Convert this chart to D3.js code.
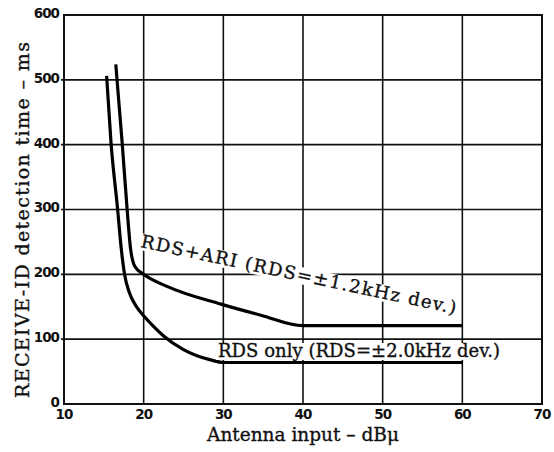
<!DOCTYPE html>
<meta charset="utf-8">
<style>
body { margin: 0; background: #fff; }
svg { display: block; background: #fff; }
.tick-label { font-family: "DejaVu Sans", sans-serif; font-weight: bold; font-size: 13.5px; letter-spacing: -1px; fill: #111; }
.title { font-family: "DejaVu Serif", serif; fill: #111; stroke: #111; stroke-width: 0.35px; }
.note { font-family: "DejaVu Serif", serif; font-size: 18px; fill: #111; stroke: #111; stroke-width: 0.35px; }
.grid { stroke: #111; stroke-width: 1.6px; }
.curve { fill: none; stroke: #000; stroke-width: 3.2px; stroke-linejoin: round; }
</style>
<body>
<div id="chart"></div>
<script src="https://d3js.org/d3.v7.min.js"></script>
<script>

// axis ticks
const xTicks = [10, 20, 30, 40, 50, 60, 70];
const yTicks = [0, 100, 200, 300, 400, 500, 600];

// RDS + ARI curve (dBu, ms)
const ariX = [16.5, 17.3, 17.9, 18.35, 18.9, 20, 23, 29.7, 34.7, 40, 60];
const ariY = [524, 403, 304, 240, 212, 200, 181, 154, 137, 121, 121];

// RDS only curve
const rdsX = [15.35, 15.9, 16.7, 17.2, 17.6, 18.2, 19.0, 20.0, 21.2, 22.5, 25, 28.4, 30, 60];
const rdsY = [506, 403, 304, 238, 200, 172, 152, 136, 120, 105, 84, 68, 64, 64];

const ariLabel = "RDS+ARI (RDS=\u00B11.2kHz dev.)";
const rdsLabel = "RDS only (RDS=\u00B12.0kHz dev.)";

const W = 554, H = 452;
const plot = {left: 64, right: 542, top: 15, bottom: 404};

const x = d3.scaleLinear().domain([10, 70]).range([plot.left, plot.right]);
const y = d3.scaleLinear().domain([0, 600]).range([plot.bottom, plot.top]);

const svg = d3.select("#chart").append("svg")
    .attr("width", W)
    .attr("height", H);

// grid lines
svg.append("g").selectAll("line")
  .data(xTicks.slice(1, -1))
  .enter().append("line")
    .attr("class", "grid")
    .attr("x1", d => x(d)).attr("x2", d => x(d))
    .attr("y1", plot.top).attr("y2", plot.bottom);

svg.append("g").selectAll("line")
  .data(yTicks.slice(1, -1))
  .enter().append("line")
    .attr("class", "grid")
    .attr("x1", plot.left - 3).attr("x2", plot.right)
    .attr("y1", d => y(d)).attr("y2", d => y(d));

// frame
svg.append("rect")
    .attr("x", plot.left).attr("y", plot.top)
    .attr("width", plot.right - plot.left).attr("height", plot.bottom - plot.top)
    .attr("fill", "none").attr("stroke", "#111").attr("stroke-width", 2);

// tick labels
svg.append("g").selectAll("text")
  .data(xTicks)
  .enter().append("text")
    .attr("class", "tick-label")
    .attr("x", d => x(d))
    .attr("y", plot.bottom + 15)
    .attr("text-anchor", "middle")
    .text(d => d);

svg.append("g").selectAll("text")
  .data(yTicks)
  .enter().append("text")
    .attr("class", "tick-label")
    .attr("x", plot.left - 5)
    .attr("y", d => y(d) - 2)
    .attr("dy", "0.36em")
    .attr("text-anchor", "end")
    .text(d => d);

// axis titles
svg.append("text")
    .attr("class", "title")
    .attr("transform", `translate(${(plot.left + plot.right) / 2}, 441)`)
    .attr("text-anchor", "middle")
    .attr("font-size", 18.5)
    .text("Antenna input \u2013 dB\u03BC");

svg.append("text")
    .attr("class", "title")
    .attr("transform", "translate(29, 220) rotate(-90)")
    .attr("text-anchor", "middle")
    .attr("textLength", 356)
    .attr("font-size", 19)
    .text("RECEIVE-ID detection time \u2013 ms");

// labels on white boxes
function addNote(txt, tx, ty, angle, len) {
  const g = svg.append("g")
      .attr("transform", `translate(${tx}, ${ty}) rotate(${angle})`);
  const bg = g.append("rect").attr("fill", "#fff");
  const t = g.append("text")
      .attr("class", "note")
      .attr("textLength", len)
      .attr("lengthAdjust", "spacing")
      .text(txt);
  const b = t.node().getBBox();
  bg.attr("x", b.x - 2).attr("y", b.y + 3)
    .attr("width", b.width + 4).attr("height", -b.y);
  return g;
}

const ariNote = addNote(ariLabel, 140, 247, 12, 322);
const rdsNote = addNote(rdsLabel, 218, 357, 0, 282);

// curves
const line = d3.line()
    .x(d => x(d[0]))
    .y(d => y(d[1]))
    .curve(d3.curveMonotoneX);

svg.append("path")
    .attr("class", "curve")
    .attr("d", line(d3.zip(ariX, ariY)));

svg.append("path")
    .attr("class", "curve")
    .attr("d", line(d3.zip(rdsX, rdsY)));

// keep notes on top
ariNote.raise();
rdsNote.raise();

</script>
</body>
